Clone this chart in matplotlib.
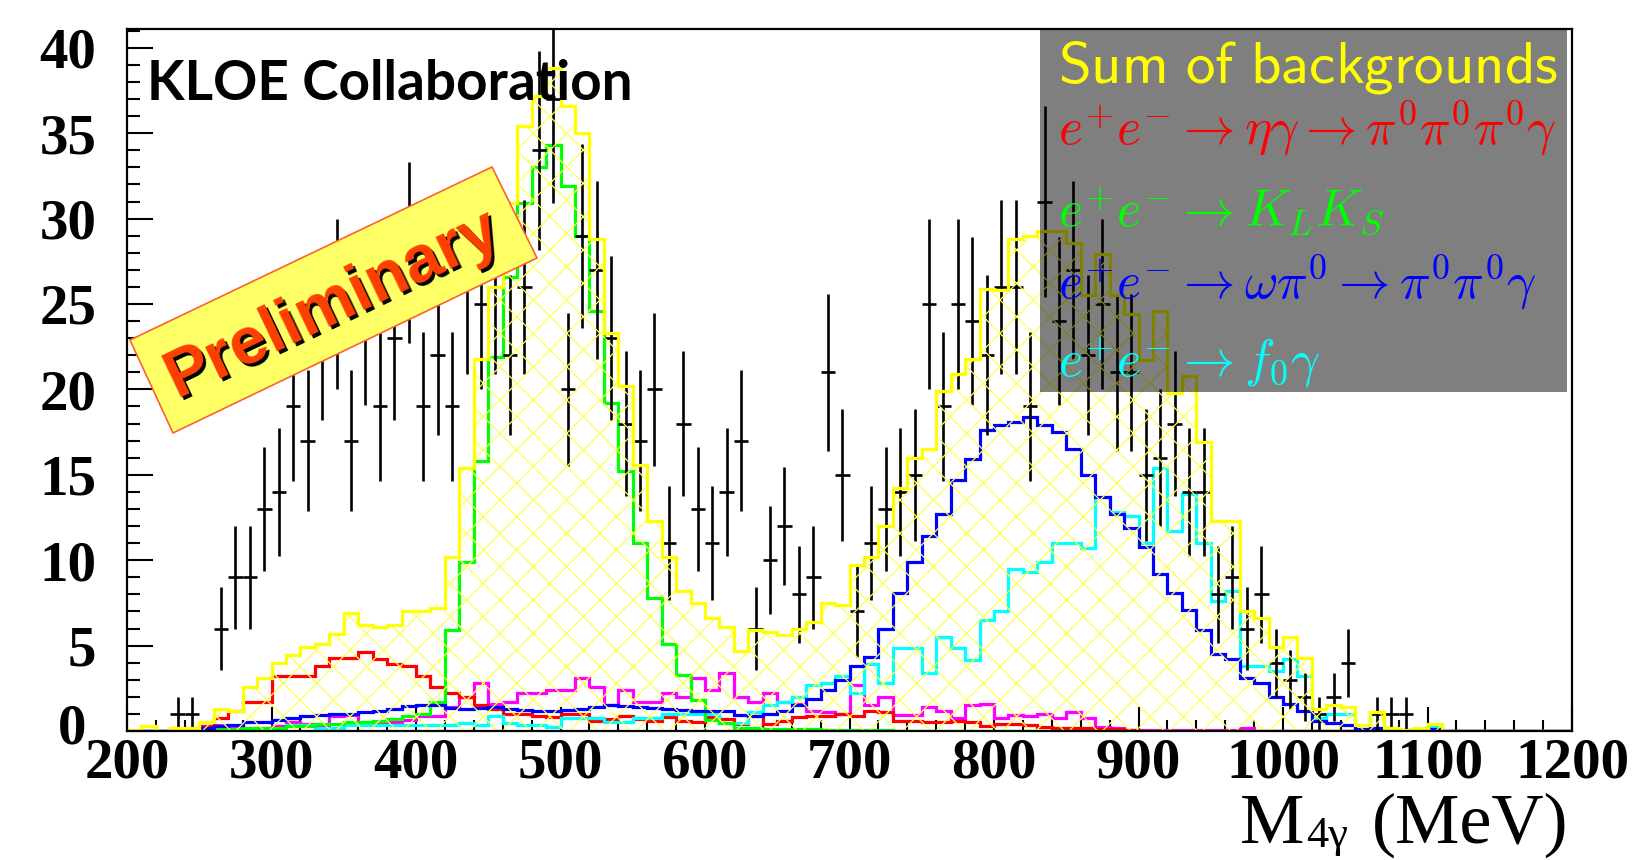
import numpy as np
import matplotlib
matplotlib.use("Agg")
import matplotlib.pyplot as plt
from matplotlib.patches import Rectangle, Polygon
from matplotlib.ticker import MultipleLocator
import matplotlib.transforms as mtransforms

# ---------------- data (10 MeV bins, 200-1200 MeV) ----------------
bin_edges = np.arange(200, 1201, 10)

data_counts = [0, 0, 0, 1, 1, 0, 6, 9, 9, 13,
               14, 19, 17, 23, 25, 17, 24, 19, 23, 28,
               19, 22, 19, 26, 25, 26, 22, 26, 34, 37,
               20, 29, 27, 23, 18, 17, 20, 11, 18, 13,
               11, 14, 17, 6, 10, 12, 8, 9, 21, 15,
               7, 11, 13, 14, 15, 25, 19, 25, 24, 22,
               26, 26, 19, 31, 24, 27, 22, 25, 21, 21,
               15, 16, 18, 14, 14, 8, 9, 6, 8, 4,
               3, 2, 1, 2, 4, 0, 1, 1, 1, 0,
               0, 0, 0, 0, 0, 0, 0, 0, 0, 0]

sum_bkg = [0.05, 0.3, 0.0, 0.15, 0.2, 0.55, 1.3, 1.2, 2.6, 3.1,
           4.0, 4.45, 4.9, 5.1, 5.7, 6.9, 6.2, 6.1, 6.2, 7.0,
           7.0, 7.2, 10.2, 15.4, 21.8, 26.0, 30.9, 35.4, 37.2, 38.8,
           36.6, 35.0, 28.8, 23.3, 20.2, 15.6, 12.3, 10.2, 8.2, 7.5,
           6.6, 6.1, 4.7, 5.9, 5.8, 5.6, 6.0, 6.4, 7.5, 7.4,
           9.7, 10.2, 12.0, 14.2, 16.0, 16.5, 19.9, 20.9, 21.8, 25.9,
           25.8, 28.8, 29.0, 29.3, 29.3, 28.6, 25.5, 27.9, 25.5, 24.4,
           21.7, 24.6, 19.8, 20.8, 16.9, 12.3, 12.3, 7.0, 6.6, 4.9,
           5.5, 4.25, 1.3, 1.5, 1.4, 0.35, 1.1, 0.15, 0.05, 0.15,
           0.4, 0, 0, 0, 0, 0, 0, 0, 0, 0]

eta_gamma = [0, 0, 0, 0, 0.05, 0.3, 0.75, 1.2, 1.7, 1.7,
             3.2, 3.2, 3.2, 3.8, 4.25, 4.25, 4.6, 4.2, 3.9, 3.8,
             3.2, 2.6, 2.2, 2.0, 1.5, 1.3, 1.0, 1.0, 0.9, 0.8,
             1.0, 1.0, 0.6, 0.7, 0.9, 0.7, 0.6, 0.8, 0.6, 0.5,
             0.8, 0.7, 0.4, 0.9, 0.4, 0.6, 0.8, 0.9, 0.9, 1.0,
             0.9, 1.2, 1.1, 0.6, 0.6, 0.5, 0.5, 0.6, 0.5, 0.3,
             0.4, 0.4, 0.35, 0.25, 0.15, 0.15, 0.15, 0.1, 0.1, 0.05,
             0, 0, 0, 0, 0, 0, 0, 0, 0, 0,
             0, 0, 0, 0, 0, 0, 0, 0, 0, 0,
             0, 0, 0, 0, 0, 0, 0, 0, 0, 0]

kl_ks = [0, 0, 0, 0, 0, 0.05, 0.1, 0.1, 0.15, 0.2,
         0.2, 0.3, 0.3, 0.4, 0.4, 0.5, 0.5, 0.6, 0.7, 0.9,
         1.0, 1.7, 5.9, 9.9, 15.8, 21.9, 26.6, 30.9, 33.0, 34.3,
         31.9, 29.0, 24.6, 19.2, 15.2, 11.0, 7.8, 5.1, 3.3, 1.8,
         0.65, 0.45, 0.15, 0.15, 0.1, 0.1, 0.1, 0.1, 0.05, 0.05,
         0.05, 0.05, 0.05, 0, 0, 0, 0, 0, 0, 0,
         0, 0, 0, 0, 0, 0, 0, 0, 0, 0,
         0, 0, 0, 0, 0, 0, 0, 0, 0, 0,
         0, 0, 0, 0, 0, 0, 0, 0, 0, 0,
         0, 0, 0, 0, 0, 0, 0, 0, 0, 0]

omega_pi0 = [0, 0, 0, 0.05, 0.1, 0.2, 0.3, 0.35, 0.5, 0.55,
             0.65, 0.75, 0.9, 0.95, 1.0, 1.0, 1.1, 1.2, 1.3, 1.45,
             1.5, 1.5, 1.35, 1.3, 1.35, 1.4, 1.3, 1.25, 1.2, 1.2,
             1.25, 1.3, 1.4, 1.5, 1.45, 1.4, 1.35, 1.3, 1.25, 1.2,
             1.2, 1.2, 0.95, 0.85, 1.0, 1.15, 1.5, 1.9, 2.4, 3.0,
             3.8, 4.35, 6.0, 8.1, 9.9, 11.4, 12.7, 14.7, 15.9, 17.6,
             17.9, 18.1, 18.4, 17.9, 17.5, 16.5, 15.0, 13.7, 12.7, 11.9,
             10.8, 9.2, 8.1, 7.1, 5.9, 4.5, 4.2, 3.1, 2.8, 2.0,
             1.6, 1.2, 0.6, 0.45, 0.35, 0.1, 0.15, 0.1, 0.05, 0.05,
             0.1, 0, 0, 0, 0, 0, 0, 0, 0, 0]

f0_gamma = [0, 0, 0, 0, 0, 0, 0, 0, 0, 0,
            0.1, 0.35, 0.35, 0.15, 0.2, 0.35, 0.35, 0.35, 0.35, 0.35,
            0.35, 0.35, 0.35, 0.45, 0.35, 0.85, 0.45, 0.35, 0.35, 0.25,
            0.75, 0.75, 0.75, 0.55, 0.55, 0.75, 0.75, 1.0, 1.0, 1.0,
            1.0, 0.45, 0.45, 1.1, 1.5, 1.7, 2.0, 2.7, 2.8, 3.2,
            2.2, 3.9, 2.8, 4.85, 4.85, 3.4, 5.5, 4.85, 4.15, 6.5,
            7.0, 9.5, 9.3, 9.9, 11.0, 11.0, 10.7, 13.7, 12.8, 12.6,
            11.0, 15.4, 11.7, 13.9, 11.0, 7.6, 8.2, 3.8, 3.8, 3.5,
            4.2, 3.2, 0.75, 1.0, 1.0, 0.1, 1.0, 0.1, 0, 0,
            0.3, 0, 0, 0, 0, 0, 0, 0, 0, 0]

other_bkg = [0, 0, 0, 0, 0, 0, 0.35, 0.15, 0.2, 0.2,
             0.3, 0.5, 0.4, 0.3, 0.85, 0.95, 0.45, 0.45, 0.55, 0.65,
             0.85, 0.85, 1.4, 2.0, 2.8, 1.6, 1.7, 2.2, 2.2, 2.4,
             2.4, 3.1, 2.6, 1.5, 2.4, 1.7, 1.7, 2.2, 2.0, 3.1,
             2.4, 3.4, 2.0, 1.7, 2.2, 1.7, 1.6, 1.2, 1.1, 1.0,
             2.7, 1.5, 2.0, 0.95, 0.95, 1.4, 1.2, 0.75, 1.5, 1.6,
             0.75, 0.95, 0.85, 1.0, 0.75, 1.1, 0.75, 0.25, 0.15, 0.05,
             0.05, 0.05, 0.05, 0.05, 0.05, 0.05, 0.05, 0.15, 0, 0,
             0, 0, 0, 0, 0, 0, 0, 0, 0, 0,
             0, 0, 0, 0, 0, 0, 0, 0, 0, 0]

x_ticks = [200, 300, 400, 500, 600, 700, 800, 900, 1000, 1100, 1200]
y_ticks = [0, 5, 10, 15, 20, 25, 30, 35, 40]

legend_lines = [
    (r"$e^{+}e^{-}\rightarrow\eta\gamma\rightarrow\pi^{0}\pi^{0}\pi^{0}\gamma$", "#ff0000"),
    (r"$e^{+}e^{-}\rightarrow K_{L}K_{S}$", "#00ff00"),
    (r"$e^{+}e^{-}\rightarrow\omega\pi^{0}\rightarrow\pi^{0}\pi^{0}\gamma$", "#0000ff"),
    (r"$e^{+}e^{-}\rightarrow f_{0}\gamma$", "#00ffff"),
]

# ---------------- figure ----------------
W, H = 1652, 860
plt.rcParams["hatch.linewidth"] = 0.9
fig = plt.figure(figsize=(W / 100, H / 100), dpi=100)

def fx(px):
    return px / W

def fy(py):
    return 1 - py / H

ax = fig.add_axes([fx(127), fy(731), (1572 - 127) / W, (731 - 29) / H])
ax.set_xlim(200, 1200)
ax.set_ylim(0, 41.1)

lw = 2.3
for vals, col in [(other_bkg, "#ff00ff"), (eta_gamma, "#ff0000"),
                  (f0_gamma, "#00ffff"), (kl_ks, "#00ff00"),
                  (omega_pi0, "#0000ff")]:
    ax.stairs(vals, bin_edges, color=col, lw=lw, zorder=2, baseline=None)

centers = 0.5 * (bin_edges[:-1] + bin_edges[1:])
counts = np.array(data_counts, dtype=float)
m = counts > 0
ax.errorbar(centers[m], counts[m], xerr=5, yerr=np.sqrt(counts[m]),
            fmt="none", ecolor="black", elinewidth=1.9, capsize=0, zorder=3)

ax.stairs(sum_bkg, bin_edges, fill=True, facecolor="none",
          edgecolor="#ffff55", hatch="x", lw=0, zorder=4)
ax.stairs(sum_bkg, bin_edges, color="#ffff00", lw=lw, zorder=4.5,
          baseline=None)

# legend box (darkening, like a multiply)
ax.add_patch(Rectangle((0.632, 0.483), 0.9965 - 0.632, 0.517,
                       transform=ax.transAxes, facecolor=(0, 0, 0, 0.5),
                       edgecolor="none", zorder=5))

# axes styling
for sp in ax.spines.values():
    sp.set_linewidth(1.6)
    sp.set_zorder(6)
ax.set_xticks(x_ticks)
ax.set_yticks(y_ticks)
ax.xaxis.set_minor_locator(MultipleLocator(20))
ax.yaxis.set_minor_locator(MultipleLocator(1))
ax.tick_params(which="both", direction="in", top=False, right=False,
               width=1.5)
ax.tick_params(axis="y", which="major", length=19, pad=22)
ax.tick_params(axis="y", which="minor", length=9.5)
ax.tick_params(axis="x", which="major", length=17, pad=5)
ax.tick_params(axis="x", which="minor", length=8)
for lab in ax.get_xticklabels() + ax.get_yticklabels():
    lab.set_fontfamily("Liberation Serif")
    lab.set_fontweight("bold")
    lab.set_fontsize(41)
# nudge the "0" y label so it clears the "200" x label
zero_lab = ax.yaxis.get_major_ticks()[0].label1
zero_lab.set_transform(zero_lab.get_transform() +
                       mtransforms.ScaledTranslation(-10 / 100, 8 / 100,
                                                     fig.dpi_scale_trans))

# x-axis title: M_{4gamma} (MeV)
fig.text(fx(1240), fy(843), "M", ha="left", va="baseline",
         fontfamily="Liberation Serif", fontsize=52)
fig.text(fx(1306), fy(847), "4\u03b3", ha="left", va="baseline",
         fontfamily="Liberation Serif", fontsize=32)
fig.text(fx(1568), fy(843), "(MeV)", ha="right", va="baseline",
         fontfamily="Liberation Serif", fontsize=52)

# legend texts
fig.text(fx(1058), fy(82), r"$\mathsf{Sum\ of\ backgrounds}$", color="#ffff00",
         fontsize=42.5, math_fontfamily="cm", ha="left", va="baseline", zorder=10)
for (txt, col), yb in zip(legend_lines, [145, 226, 299, 377]):
    fig.text(fx(1058), fy(yb), txt, color=col, fontsize=37,
             math_fontfamily="cm", ha="left", va="baseline", zorder=10)

# KLOE label
fig.text(fx(147), fy(100), "KLOE Collaboration", fontfamily="Lato",
         fontweight="bold", fontsize=39.5, ha="left", va="baseline", zorder=10)

# Preliminary stamp
corners = [(130, 340), (492, 167), (537, 258), (173, 433)]
fig.patches.append(Polygon([(fx(x), fy(y)) for x, y in corners], closed=True,
                           transform=fig.transFigure, facecolor="#ffff66",
                           edgecolor="#ff6030", lw=1.2, zorder=20))
cxp = sum(c[0] for c in corners) / 4
cyp = sum(c[1] for c in corners) / 4 + 4
shadow = mtransforms.offset_copy(fig.transFigure, fig=fig, x=3, y=-3,
                                 units="dots")
for tr, col, z in [(shadow, "black", 21), (fig.transFigure, "#ff4000", 22)]:
    fig.text(fx(cxp), fy(cyp), "Preliminary", transform=tr, color=col,
             fontfamily="Liberation Sans", fontweight="bold", fontsize=48,
             rotation=25.5, rotation_mode="anchor", ha="center",
             va="center", zorder=z)

fig.savefig("out.png", dpi=100)
